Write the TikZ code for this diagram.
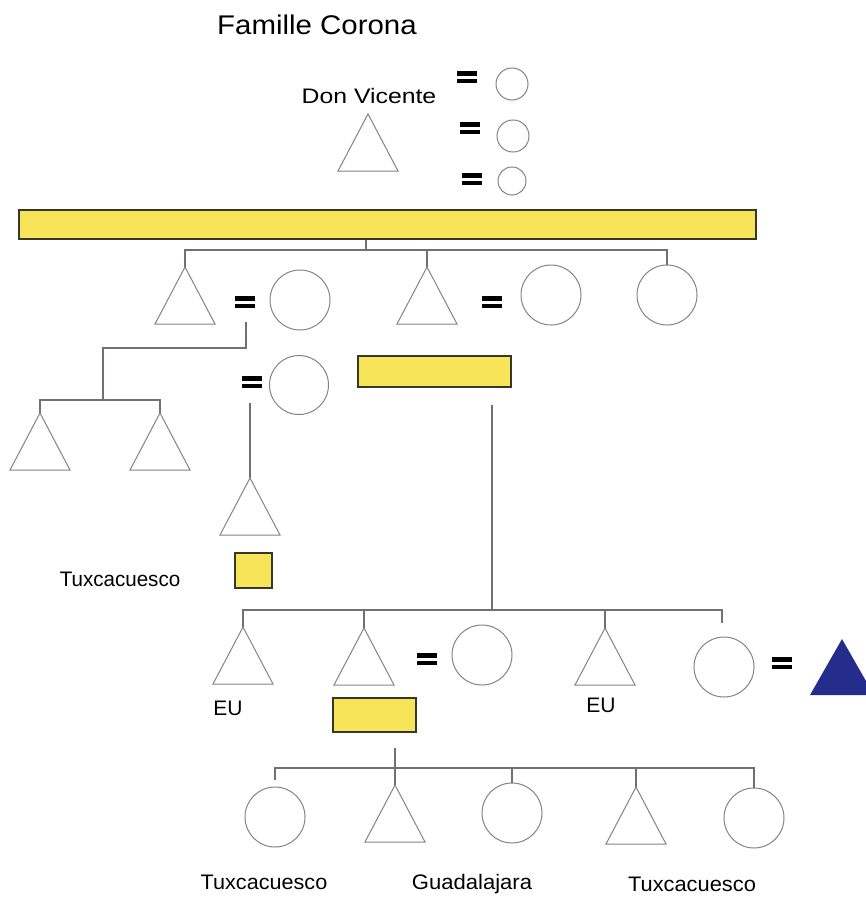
\documentclass[tikz,border=0pt]{standalone}
\usepackage{fontspec}
\setmainfont{Liberation Sans}
\usetikzlibrary{calc}
\definecolor{lin}{RGB}{112,112,122}
\definecolor{shp}{RGB}{130,130,140}
\definecolor{ylw}{RGB}{248,228,88}
\definecolor{ybd}{RGB}{55,55,40}
\definecolor{navy}{RGB}{36,44,140}
\newcommand{\famtri}[3]{\coordinate (#1) at (#2,#3);
  \draw[triline] (#1) -- ++(-30,57) -- ++(60,0) -- cycle;}
\begin{document}
\begin{tikzpicture}[x=1pt,y=-1pt,
  conn/.style={draw=lin, line width=1.1pt},
  circ/.style={circle, draw=shp, line width=1pt, inner sep=0pt, minimum size=60pt},
  smallcirc/.style={circ, minimum size=31pt},
  triline/.style={draw=shp, line width=1pt, line join=miter},
  ybox/.style={draw=ybd, fill=ylw, line width=1.3pt, inner sep=0pt},
  eqsign/.style={inner sep=0pt, minimum width=20pt, minimum height=12pt,
    path picture={
      \fill[black] (path picture bounding box.north west) rectangle ([yshift=-4.5pt]path picture bounding box.north east);
      \fill[black] (path picture bounding box.south west) rectangle ([yshift=4.5pt]path picture bounding box.south east);}},
  lbl/.style={inner sep=0pt, anchor=base, font=\fontsize{21}{25}\selectfont},
]
\useasboundingbox (0,0) rectangle (865,899);

% title
\node[anchor=base, inner sep=0pt] (title) at (317,35) {\fontsize{27}{30}\selectfont\scalebox{1.09}[1]{Famille Corona}};

% generation 1
\node[lbl] (dvname) at (369,103) {\scalebox{1.18}[1]{Don Vicente}};
\famtri{dv}{368}{114}
\node[eqsign] (e11) at (467,77) {};
\node[smallcirc, minimum size=32pt] (w11) at (512,84) {};
\node[eqsign] (e12) at (470,128) {};
\node[smallcirc, minimum size=32pt] (w12) at (513,136) {};
\node[eqsign] (e13) at (472,179) {};
\node[smallcirc, minimum size=28pt] (w13) at (512,181) {};

% sibling bar
\node[ybox, minimum width=737pt, minimum height=29pt] (bar) at (387.5,224.5) {};
\coordinate (g2) at (366,250);

% generation 2
\famtri{t21}{185}{267}
\node[eqsign] (e21) at (245,302) {};
\node[circ] (c21) at (300,300) {};
\famtri{t22}{427}{267}
\node[eqsign] (e22) at (492,302) {};
\node[circ] (c22) at (551,295) {};
\node[circ] (c23) at (667,295) {};

\draw[conn] (g2 |- bar.south) -- (g2);
\draw[conn] (t21) -- (t21 |- g2) -- (c23.north |- g2) -- (c23.north);
\draw[conn] (t22) -- (t22 |- g2);

% generation 3 (left branch)
\coordinate (j3) at (103,348);
\coordinate (j3b) at (103,400);
\famtri{t31}{40}{413}
\famtri{t32}{160}{413}
\draw[conn] ($(e21.south)+(1,14)$) -- ($(e21.south |- j3)+(1,0)$) -- (j3) -- (j3b);
\draw[conn] (t31) -- (t31 |- j3b) -- (t32 |- j3b) -- (t32);

\node[eqsign] (e3) at (252,382) {};
\node[circ, minimum size=59pt] (c3) at (299,385) {};
\famtri{t33}{250}{478}
\draw[conn] ($(t33 |- e3.south)+(0,15)$) -- (t33);
\node[ybox, minimum width=153pt, minimum height=31pt] (r2) at (434.5,371.5) {};
\node[ybox, minimum width=37pt, minimum height=35pt] (sq) at (253.5,570.5) {};
\node[lbl] (tux1) at (120,586) {\scalebox{0.98}[1]{Tuxcacuesco}};

% generation 4
\coordinate (j4) at (492,610);
\draw[conn] ($(j4 |- r2.south)+(0,17)$) -- (j4);
\famtri{t41}{243}{627}
\famtri{t42}{364}{628}
\node[eqsign] (e41) at (427,659) {};
\node[circ] (c41) at (482,655) {};
\famtri{t43}{605}{628}
\node[circ] (c42) at (724,667) {};
\node[eqsign] (e42) at (782,663) {};
\coordinate (bt) at (842,639);
\fill[navy] (bt) -- ++(-32,56) -- ++(64,0) -- cycle;
\draw[conn] (t41) -- (t41 |- j4) -- ($(c42 |- j4)+(-2,0)$) -- ++(0,13);
\draw[conn] (t42) -- (t42 |- j4);
\draw[conn] (t43) -- (t43 |- j4);
\node[lbl] (eu1) at (228,715) {EU};
\node[lbl] (eu2) at (601,712) {EU};
\node[ybox, minimum width=83pt, minimum height=34pt] (r3) at (374.5,715) {};

% generation 5
\coordinate (j5) at (395,768);
\famtri{t51}{395}{785}
\node[circ] (c51) at (275,817) {};
\node[circ] (c52) at (512,813) {};
\famtri{t52}{636}{787}
\node[circ] (c53) at (754,818) {};
\draw[conn] ($(t51 |- r3.south)+(0,15)$) -- (t51);
\draw[conn] ($(c51.north)+(0,-7)$) -- (c51.north |- j5) -- (c53.north |- j5) -- (c53.north);
\draw[conn] (c52.north) -- (c52.north |- j5);
\draw[conn] (t52) -- (t52 |- j5);
\node[lbl] (tux2) at (264,889) {\scalebox{1.03}[1]{Tuxcacuesco}};
\node[lbl] (gdl) at (472,889) {\scalebox{1.05}[1]{Guadalajara}};
\node[lbl] (tux3) at (692,891) {\scalebox{1.04}[1]{Tuxcacuesco}};
\end{tikzpicture}
\end{document}
